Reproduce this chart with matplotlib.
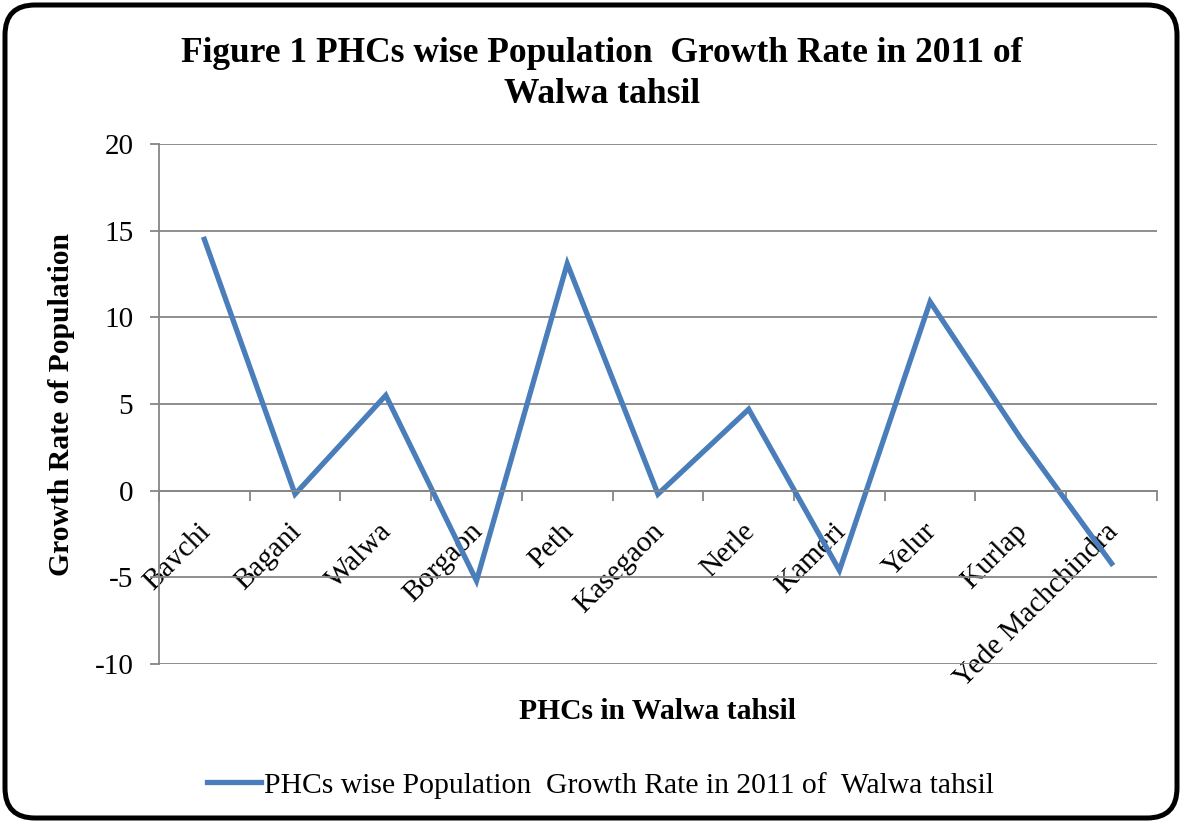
import matplotlib
matplotlib.use('Agg')
import matplotlib.pyplot as plt
from matplotlib.patches import FancyBboxPatch
import matplotlib.transforms as mtransforms

phcs = ['Bavchi', 'Bagani', 'Walwa', 'Borgaon', 'Peth', 'Kasegaon', 'Nerle',
        'Kameri', 'Yelur', 'Kurlap', 'Yede Machchindra']
growth_rate = [14.5, -0.2, 5.5, -5.2, 13.1, -0.2, 4.7, -4.6, 10.9, 3.0, -4.2]
y_ticks = [-10, -5, 0, 5, 10, 15, 20]

title = 'Figure 1 PHCs wise Population  Growth Rate in 2011 of\nWalwa tahsil'
series_name = 'PHCs wise Population  Growth Rate in 2011 of  Walwa tahsil'

plt.rcParams['font.family'] = ['Liberation Serif', 'DejaVu Serif']

fig = plt.figure(figsize=(11.82, 8.23), dpi=100)
ax = fig.add_axes([0.1345, 0.1932, 0.8443, 0.6318])

x = list(range(len(phcs)))
ax.plot(x, growth_rate, color='#4A7EBB', linewidth=3.8,
        solid_joinstyle='miter', label=series_name)

ax.set_xlim(-0.5, len(phcs) - 0.5)
ax.set_ylim(-10, 20)
ax.set_yticks(y_ticks)
ax.set_yticklabels([str(v) for v in y_ticks])
ax.grid(True, axis='y', color='#868686', linewidth=1.3)
ax.set_axisbelow(True)

# category boundaries as major ticks, names as minor ticks
ax.set_xticks([i - 0.5 for i in range(len(phcs) + 1)])
ax.set_xticklabels([])
ax.set_xticks(x, minor=True)
ax.set_xticklabels(phcs, minor=True)
ax.tick_params(axis='x', which='major', length=7, width=1.3, color='#868686')
ax.tick_params(axis='x', which='minor', length=0, pad=20, labelsize=21,
               labelrotation=45)
ax.tick_params(axis='y', length=6.5, width=1.3, color='#868686', pad=12,
               labelsize=21)

ax.spines['bottom'].set_position(('data', 0))
ax.spines['bottom'].set_color('#868686')
ax.spines['bottom'].set_linewidth(1.3)
ax.spines['left'].set_color('#868686')
ax.spines['left'].set_linewidth(1.3)
ax.spines['top'].set_visible(False)
ax.spines['right'].set_visible(False)

fig.text(0.509, 0.910, title, ha='center', va='center', fontsize=25.5,
         fontweight='bold', linespacing=1.3)
fig.text(0.052, 0.508, 'Growth Rate of Population', ha='center', va='center',
         rotation=90, fontsize=21.3, fontweight='bold')
fig.text(0.556, 0.1349, 'PHCs in Walwa tahsil', ha='center', va='center',
         fontsize=21.3, fontweight='bold')

fig.legend(loc='center', bbox_to_anchor=(0.508, 0.046), frameon=False,
           fontsize=21.3, handlelength=1.8, handletextpad=0.1)

border = FancyBboxPatch((0.05, 0.05), 11.72, 8.13,
                        boxstyle='round,pad=0,rounding_size=0.3',
                        transform=fig.dpi_scale_trans, facecolor='none',
                        edgecolor='black', linewidth=3.6)
fig.patches.append(border)

shift = mtransforms.ScaledTranslation(-0.07, 0, fig.dpi_scale_trans)
for tick in ax.xaxis.get_minor_ticks():
    tick.label1.set_horizontalalignment('right')
    tick.label1.set_verticalalignment('top')
    tick.label1.set_rotation_mode('anchor')
    tick.label1.set_transform(tick.label1.get_transform() + shift)

fig.savefig('out.png', dpi=100)
